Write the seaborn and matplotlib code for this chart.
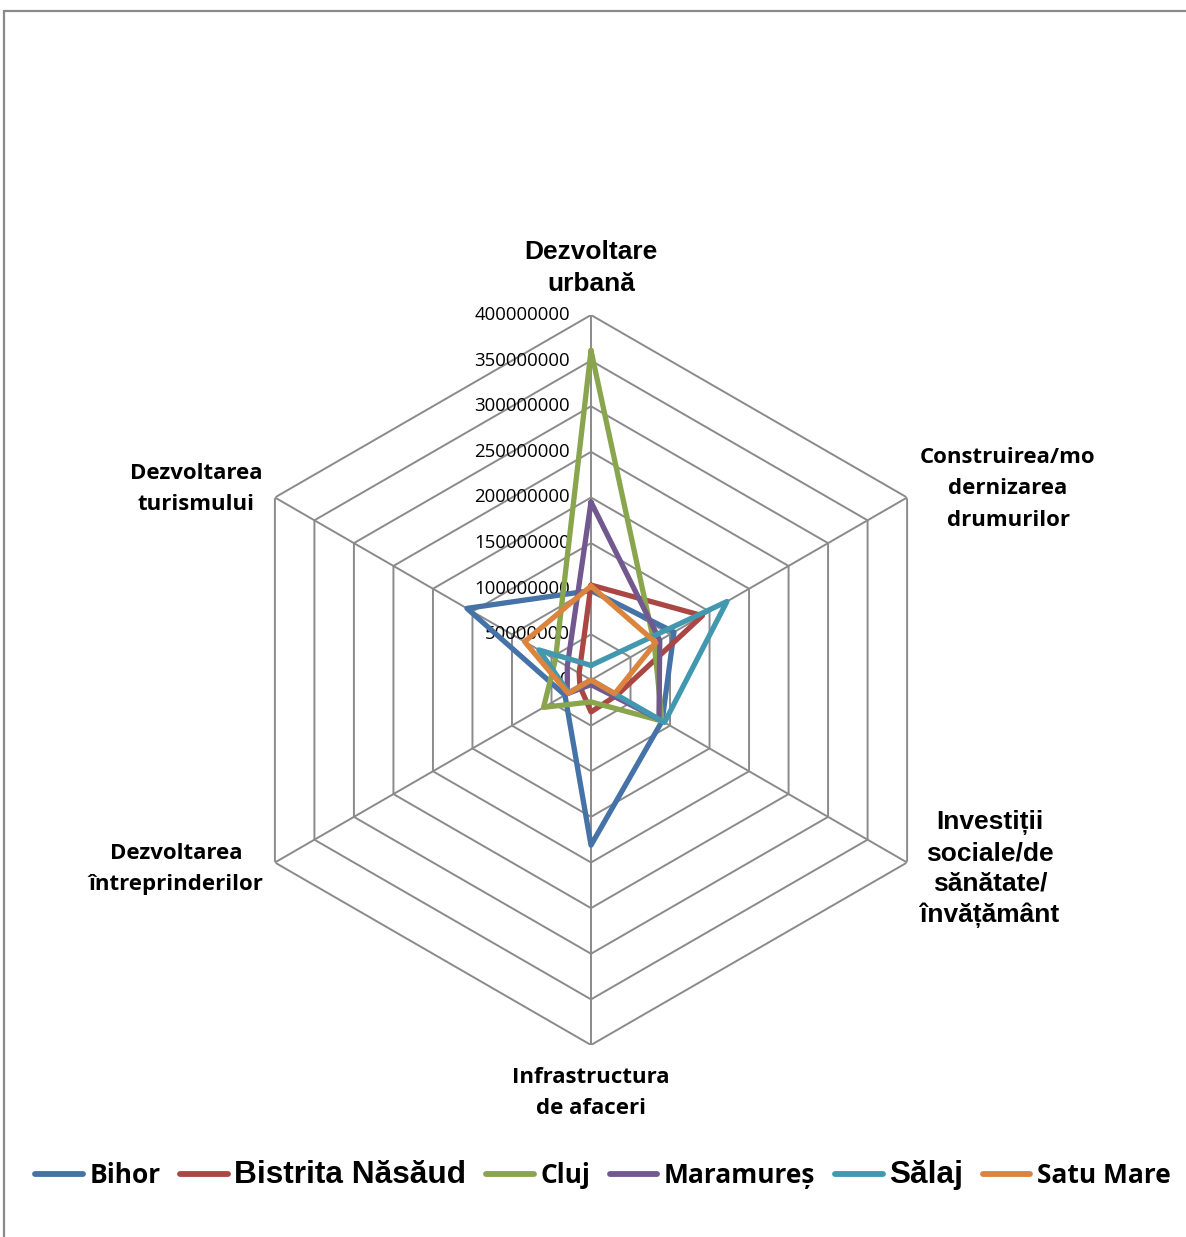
import numpy as np
import pandas as pd
import matplotlib
matplotlib.use("Agg")
import matplotlib.pyplot as plt
from matplotlib.lines import Line2D
from matplotlib.patches import Rectangle
import seaborn as sns

# Axis categories, clockwise from the top
categories = [
    "Dezvoltare urbană",
    "Construirea/modernizarea drumurilor",
    "Investiții sociale/de sănătate/învățământ",
    "Infrastructura de afaceri",
    "Dezvoltarea întreprinderilor",
    "Dezvoltarea turismului",
]

counties = ["Bihor", "Bistrita Năsăud", "Cluj", "Maramureș", "Sălaj", "Satu Mare"]

bihor = [98e6, 105e6, 90e6, 181e6, 33e6, 157e6]
bistrita = [104e6, 141e6, 33e6, 35e6, 14e6, 15e6]
cluj = [361e6, 80e6, 90e6, 24e6, 60e6, 45e6]
maramures = [195e6, 87e6, 86e6, 5e6, 30e6, 30e6]
salaj = [16e6, 172e6, 93e6, 0, 28e6, 66e6]
satu_mare = [103e6, 82e6, 30e6, 0, 29e6, 84e6]

series_values = [bihor, bistrita, cluj, maramures, salaj, satu_mare]
colors = ["#4572A7", "#AA4643", "#89A54E", "#71588F", "#4198AF", "#DB843D"]

tick_values = [0, 50e6, 100e6, 150e6, 200e6, 250e6, 300e6, 350e6, 400e6]
tick_labels = ["0", "50000000", "100000000", "150000000", "200000000",
               "250000000", "300000000", "350000000", "400000000"]

W, H = 1186, 1237
sns.set_theme(style="white")
sans = ["Open Sans", "DejaVu Sans"]
arial = ["Liberation Sans", "DejaVu Sans"]
plt.rcParams["font.family"] = sans
plt.rcParams["text.color"] = "black"

fig = plt.figure(figsize=(W / 100, H / 100), dpi=100)
fig.patch.set_facecolor("white")

# Polar axes: centre at (591, 680) px, radius 365 px
cx, cy, R = 591, 680, 365
ax = fig.add_axes([(cx - R) / W, 1 - (cy + R) / H, 2 * R / W, 2 * R / H],
                  projection="polar")
ax.set_theta_offset(np.pi / 2)
ax.set_theta_direction(-1)
ax.grid(False)
ax.set_xticks([])
ax.set_yticks([])
ax.spines["polar"].set_visible(False)
ax.patch.set_alpha(0)

n = len(categories)
angles = np.linspace(0, 2 * np.pi, n, endpoint=False)
angles_closed = np.append(angles, 2 * np.pi)

# Hexagonal rings and spokes
grid_color = "#8a8a8a"
for v in tick_values[1:]:
    ax.plot(angles_closed, [v] * (n + 1), color=grid_color, lw=1.4, zorder=1)
for a in angles:
    ax.plot([a, a], [0, 400e6], color=grid_color, lw=1.4, zorder=1)

# Radial tick labels along the top spoke
for v, lab in zip(tick_values, tick_labels):
    ax.annotate(lab, xy=(0, v), xytext=(-21, 0), textcoords="offset pixels",
                ha="right", va="center", fontsize=13.4, color="black",
                family=sans, zorder=2)

# Long-form data for seaborn
rows = []
for county, vals in zip(counties, series_values):
    closed = list(vals) + [vals[0]]
    for a, v in zip(angles_closed, closed):
        rows.append({"county": county, "theta": a, "value": v})
df = pd.DataFrame(rows)

sns.lineplot(data=df, x="theta", y="value", hue="county", hue_order=counties,
             palette=colors, sort=False, estimator=None, units="county",
             lw=3.8, legend=False, ax=ax, zorder=3)
ax.set_xlabel("")
ax.set_ylabel("")
ax.set_ylim(0, 400e6)

# Category labels
cat_labels = [
    ("Dezvoltare\nurbană", 591, 268, arial, 19, 1.38),
    ("Construirea/mo\ndernizarea\ndrumurilor", 1008, 489, sans, 16, 1.63),
    ("Investiții\nsociale/de\nsănătate/\nînvățământ", 990, 869, arial, 19, 1.35),
    ("Infrastructura\nde afaceri", 591, 1093, sans, 16, 1.63),
    ("Dezvoltarea\nîntreprinderilor", 176, 869, sans, 16, 1.63),
    ("Dezvoltarea\nturismului", 196, 489, sans, 16, 1.63),
]
for text, x, y, fam, size, ls in cat_labels:
    fig.text(x / W, 1 - y / H, text, ha="center", va="center",
             multialignment="center", fontsize=size, fontweight="bold",
             family=fam, linespacing=ls, color="black")

# Legend
handles = [Line2D([0], [0], color=c, lw=4.2, solid_capstyle="round") for c in colors]
leg = fig.legend(handles, counties, loc="center", bbox_to_anchor=(603 / W, 1 - 1175 / H),
                 ncol=6, frameon=False, handlelength=1.8, handletextpad=0.25,
                 columnspacing=0.75, prop={"family": sans, "weight": "bold", "size": 19})
for i, t in enumerate(leg.get_texts()):
    t.set_color("black")
    if i in (1, 4):
        t.set_fontfamily(arial)
        t.set_fontsize(22.8)
    t.set_fontweight("bold")

# Chart border
fig.add_artist(Rectangle((3.5 / W, -0.1), 1.2, 1 - 11 / H + 0.1, fill=False,
                         ec="#8a8a8a", lw=1.6, transform=fig.transFigure))

fig.savefig("out.png", dpi=100, facecolor="white")
